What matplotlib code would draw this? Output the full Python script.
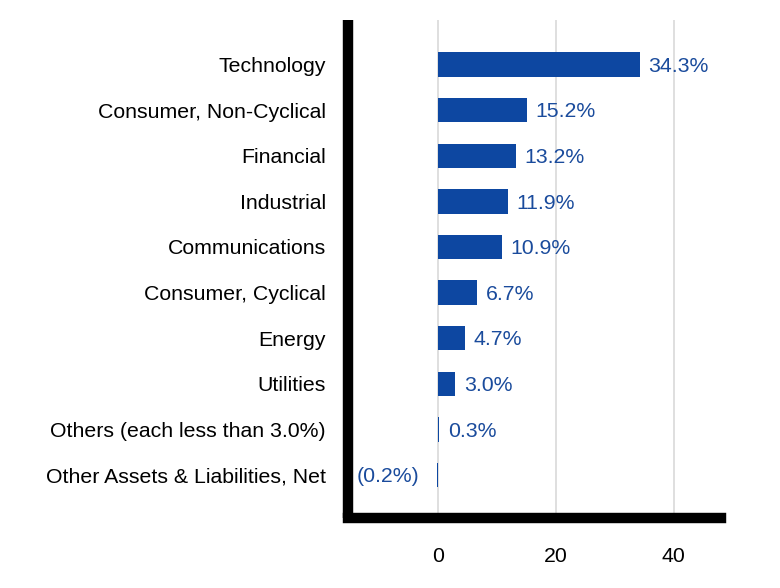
import matplotlib
matplotlib.use("Agg")
import matplotlib.pyplot as plt

categories = ["Technology", "Consumer, Non-Cyclical", "Financial", "Industrial",
              "Communications", "Consumer, Cyclical", "Energy", "Utilities",
              "Others (each less than 3.0%)", "Other Assets & Liabilities, Net"]
values = [34.3, 15.2, 13.2, 11.9, 10.9, 6.7, 4.7, 3.0, 0.3, -0.2]
labels = ["34.3%", "15.2%", "13.2%", "11.9%", "10.9%", "6.7%", "4.7%", "3.0%", "0.3%", "(0.2%)"]
xticks = [0, 20, 40]

plt.rcParams['font.family'] = ['Liberation Sans', 'DejaVu Sans']

W, H = 780, 588
fig = plt.figure(figsize=(W / 100, H / 100), dpi=100)
left, right, top, bottom = 348, 721, 20, 518
ax = fig.add_axes([left / W, 1 - bottom / H, (right - left) / W, (bottom - top) / H])

bar_color = "#0d47a1"
label_color = "#1a4b9c"
fs = 15.3
ypos = list(range(len(categories)))
ax.barh(ypos, values, height=0.535, color=bar_color, zorder=3)

for y, v, t in zip(ypos, values, labels):
    if v >= 0:
        ax.annotate(t, (v, y), xytext=(6, -5.2), textcoords="offset points",
                    ha="left", va="baseline", color=label_color, fontsize=fs)
    else:
        ax.annotate(t, (v, y), xytext=(-12, -5.2), textcoords="offset points",
                    ha="right", va="baseline", color=label_color, fontsize=fs)

ax.set_xlim(-15.2, 48.0)
ax.set_ylim(9 + 0.945, -0.976)
ax.set_yticks(ypos)
ax.set_yticklabels(categories, fontsize=fs)
ax.set_xticks(xticks)
ax.set_xticklabels([str(x) for x in xticks], fontsize=fs)
ax.tick_params(axis="both", length=0)
ax.tick_params(axis="y", pad=16)
ax.tick_params(axis="x", pad=21)
ax.grid(axis="x", color="#d9d9d9", linewidth=1.2, zorder=0)
ax.set_axisbelow(True)

for s in ["top", "right"]:
    ax.spines[s].set_visible(False)
for s in ["left", "bottom"]:
    ax.spines[s].set_linewidth(7.5)
    ax.spines[s].set_color("black")
    ax.spines[s].set_zorder(4)
ax.spines["left"].set_capstyle("butt")
ax.spines["bottom"].set_capstyle("projecting")

fig.savefig("out.png", dpi=100)
